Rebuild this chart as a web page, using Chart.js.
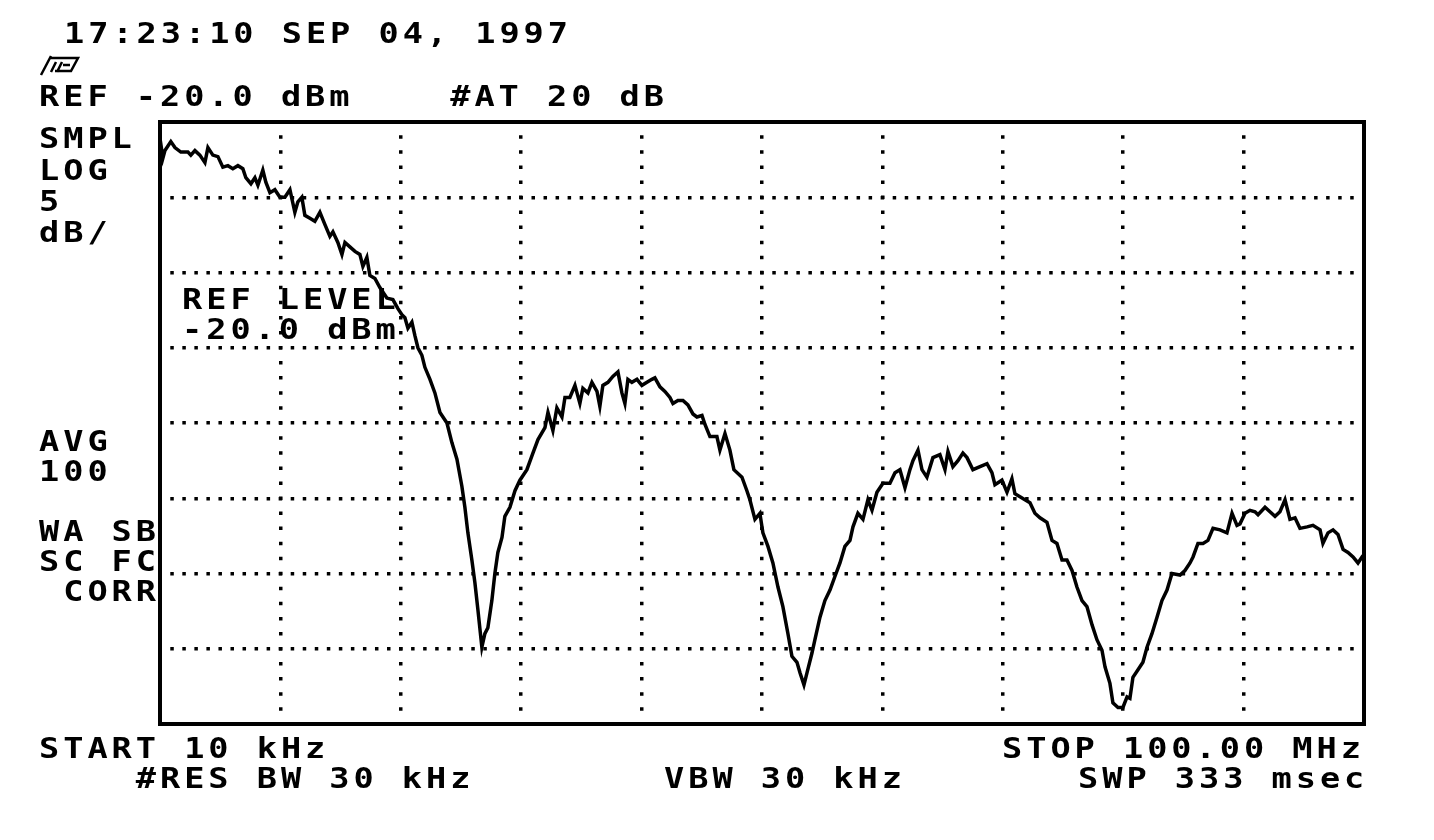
<!DOCTYPE html>
<html>
<head>
<meta charset="utf-8">
<script src="https://cdn.jsdelivr.net/npm/chart.js@4.4.1/dist/chart.umd.min.js"></script>
<style>
  body { margin: 0; background: #fff; }
  #wrap { position: relative; width: 1434px; height: 840px; overflow: hidden; }
  #plot { position: absolute; left: 0; top: 0; }
  .t {
    position: absolute;
    font-family: "DejaVu Sans Mono", monospace;
    font-weight: bold;
    font-size: 28px;
    line-height: 28px;
    letter-spacing: 3.3px;
    color: #000;
    white-space: pre;
    transform: scaleX(1.2);
    transform-origin: 0 0;
  }
  #logo { position: absolute; left: 38px; top: 52px; }
</style>
</head>
<body>
<div id="wrap">
  <canvas id="plot" width="1434" height="840"></canvas>

  <div class="t" style="left:64px;top:20px">17:23:10 SEP 04, 1997</div>
  <svg id="logo" width="44" height="26" viewBox="0 0 44 26">
    <path d="M3 23 L13 4 M12 6 L40 6 L33 19 L17 19 M18 10 L13 20 M24 10 L19 20 M25 13 L32 13" fill="none" stroke="#000" stroke-width="2.5"/>
  </svg>
  <div class="t" style="left:39px;top:83px">REF -20.0 dBm    #AT 20 dB</div>

  <div class="t" style="left:39px;top:125px">SMPL</div>
  <div class="t" style="left:39px;top:157px">LOG</div>
  <div class="t" style="left:39px;top:188px">5</div>
  <div class="t" style="left:39px;top:219px">dB/</div>

  <div class="t" style="left:182px;top:286px">REF LEVEL</div>
  <div class="t" style="left:182px;top:316px">-20.0 dBm</div>

  <div class="t" style="left:39px;top:428px">AVG</div>
  <div class="t" style="left:39px;top:458px">100</div>
  <div class="t" style="left:39px;top:518px">WA SB</div>
  <div class="t" style="left:39px;top:548px">SC FC</div>
  <div class="t" style="left:39px;top:578px"> CORR</div>

  <div class="t" style="left:39px;top:735px">START 10 kHz</div>
  <div class="t" style="left:39px;top:765px">    #RES BW 30 kHz</div>
  <div class="t" style="left:664px;top:765px">VBW 30 kHz</div>
  <div class="t" style="left:1002px;top:735px">STOP 100.00 MHz</div>
  <div class="t" style="left:1078px;top:765px">SWP 333 msec</div>
</div>

<script>
// sweep: 10 kHz .. 100 MHz, ref level -20 dBm, 5 dB/div
const freqMHz = [
  0.01, 0.25, 0.42, 0.91, 1.25, 1.74, 2.33, 2.57, 2.91, 3.32,
  3.74, 3.99, 4.40, 4.82, 5.23, 5.65, 6.06, 6.48, 6.89, 7.14,
  7.56, 7.89, 8.14, 8.55, 8.80, 9.14, 9.55, 9.97, 10.38, 10.80,
  11.21, 11.46, 11.79, 12.04, 12.46, 12.87, 13.29, 13.70, 14.12, 14.37,
  14.78, 15.12, 15.37, 15.78, 16.20, 16.61, 16.86, 17.19, 17.44, 17.86,
  18.27, 18.85, 19.35, 19.77, 20.10, 20.35, 20.60, 20.93, 21.18, 21.43,
  21.76, 22.01, 22.43, 22.84, 23.26, 23.84, 24.25, 24.67, 25.08, 25.33,
  25.58, 25.91, 26.16, 26.41, 26.74, 26.99, 27.24, 27.57, 27.82, 28.07,
  28.41, 28.65, 29.07, 29.49, 29.90, 30.48, 30.98, 31.40, 31.98, 32.23,
  32.64, 32.97, 33.39, 33.64, 34.05, 34.47, 34.88, 35.13, 35.55, 35.88,
  36.30, 36.54, 36.79, 37.21, 37.62, 38.04, 38.37, 38.62, 38.87, 39.20,
  39.62, 40.03, 40.45, 40.86, 41.11, 41.53, 41.94, 42.36, 42.61, 43.02,
  43.44, 43.85, 44.27, 44.60, 45.02, 45.27, 45.68, 46.26, 46.51, 46.93,
  47.34, 47.67, 48.34, 48.75, 49.00, 49.42, 49.83, 50.08, 50.50, 50.91,
  51.33, 51.74, 52.16, 52.49, 52.91, 53.16, 53.49, 53.74, 54.15, 54.40,
  54.82, 55.23, 55.65, 56.06, 56.48, 56.89, 57.31, 57.56, 57.97, 58.39,
  58.80, 59.14, 59.55, 60.05, 60.63, 61.05, 61.46, 61.88, 62.29, 62.54,
  62.96, 63.29, 63.70, 64.20, 64.78, 65.20, 65.45, 65.86, 66.28, 66.69,
  67.03, 67.52, 68.11, 68.69, 69.10, 69.35, 69.93, 70.35, 70.76, 71.01,
  71.43, 71.84, 72.26, 72.67, 73.09, 73.67, 74.09, 74.50, 74.92, 75.33,
  75.75, 76.16, 76.58, 76.99, 77.41, 77.82, 78.24, 78.49, 78.90, 79.15,
  79.57, 79.98, 80.32, 80.56, 80.81, 81.23, 81.64, 81.98, 82.39, 82.81,
  83.22, 83.64, 84.05, 84.72, 85.13, 85.55, 85.80, 86.21, 86.63, 87.04,
  87.46, 88.04, 88.62, 89.04, 89.45, 89.70, 90.12, 90.53, 90.95, 91.20,
  91.78, 92.19, 92.61, 93.02, 93.44, 93.85, 94.27, 94.68, 95.27, 95.76,
  96.35, 96.59, 97.01, 97.43, 97.84, 98.26, 98.67, 99.09, 99.50, 99.92
];
const levelDbm = [
  -21.1, -22.4, -21.9, -21.3, -21.7, -22.0, -22.0, -22.2, -21.9, -22.2,
  -22.7, -21.7, -22.2, -22.3, -23.0, -22.9, -23.1, -22.9, -23.1, -23.7,
  -24.1, -23.7, -24.2, -23.2, -24.0, -24.7, -24.5, -25.0, -25.0, -24.5,
  -26.0, -25.3, -25.0, -26.2, -26.4, -26.6, -26.0, -26.8, -27.6, -27.3,
  -28.0, -28.8, -28.0, -28.3, -28.6, -28.8, -29.6, -29.0, -30.2, -30.4,
  -31.0, -31.7, -31.8, -32.4, -32.8, -33.0, -33.7, -33.3, -34.2, -35.0,
  -35.5, -36.3, -37.1, -38.0, -39.3, -40.0, -41.3, -42.4, -44.2, -45.6,
  -47.3, -49.1, -50.6, -52.4, -54.9, -54.0, -53.6, -51.8, -50.0, -48.6,
  -47.6, -46.2, -45.6, -44.5, -43.8, -43.1, -42.0, -41.1, -40.3, -39.3,
  -40.5, -39.0, -39.6, -38.3, -38.3, -37.5, -38.7, -37.7, -38.0, -37.3,
  -37.9, -38.9, -37.5, -37.3, -36.9, -36.6, -38.0, -38.7, -37.1, -37.3,
  -37.1, -37.5, -37.3, -37.1, -37.0, -37.6, -37.9, -38.3, -38.7, -38.5,
  -38.5, -38.8, -39.4, -39.6, -39.5, -40.1, -40.9, -40.9, -41.8, -40.7,
  -41.8, -43.1, -43.6, -44.5, -45.1, -46.4, -46.0, -47.3, -48.2, -49.3,
  -50.9, -52.2, -54.0, -55.5, -55.9, -56.6, -57.4, -56.6, -55.3, -54.4,
  -52.9, -51.8, -51.1, -50.2, -49.3, -48.2, -47.8, -46.9, -46.0, -46.4,
  -45.1, -45.8, -44.6, -44.0, -44.0, -43.3, -43.1, -44.3, -43.1, -42.5,
  -41.8, -43.1, -43.6, -42.3, -42.1, -43.1, -41.9, -42.9, -42.5, -42.0,
  -42.3, -43.1, -42.9, -42.7, -43.3, -44.1, -43.8, -44.6, -43.7, -44.7,
  -44.9, -45.1, -45.3, -46.0, -46.3, -46.6, -47.8, -48.0, -49.1, -49.1,
  -49.8, -50.9, -51.8, -52.2, -53.4, -54.4, -55.1, -56.2, -57.3, -58.6,
  -58.9, -58.9, -58.2, -58.3, -56.9, -56.4, -55.9, -54.9, -54.0, -52.9,
  -51.8, -51.1, -50.0, -50.1, -49.8, -49.3, -48.9, -48.0, -48.0, -47.8,
  -47.0, -47.1, -47.3, -46.0, -46.8, -46.7, -46.0, -45.8, -45.9, -46.1,
  -45.6, -45.9, -46.2, -45.9, -45.1, -46.4, -46.3, -47.0, -46.9, -46.8,
  -47.1, -48.0, -47.3, -47.1, -47.4, -48.4, -48.6, -48.9, -49.3, -48.8
];

// graticule: 10 horizontal divisions over the span, 8 vertical divisions of 5 dB
const xGridMHz = [0.01, 10.009, 20.008, 30.007, 40.006, 50.005, 60.004, 70.003, 80.002, 90.001, 100];
const yGridDbm = [-60, -55, -50, -45, -40, -35, -30, -25, -20];

const framePlugin = {
  id: 'frame',
  afterDraw(chart) {
    const { ctx, chartArea: a } = chart;
    ctx.save();
    ctx.strokeStyle = '#000';
    ctx.lineWidth = 4;
    ctx.strokeRect(a.left, a.top, a.right - a.left, a.bottom - a.top);
    ctx.restore();
  }
};

const ctx = document.getElementById('plot').getContext('2d');
new Chart(ctx, {
  type: 'line',
  data: {
    datasets: [{
      data: freqMHz.map((f, i) => ({ x: f, y: levelDbm[i] })),
      borderColor: '#000',
      borderWidth: 3.5,
      pointRadius: 0,
      tension: 0,
      fill: false
    }]
  },
  options: {
    responsive: false,
    animation: false,
    layout: { padding: { left: 160, top: 122, right: 70, bottom: 116 } },
    plugins: { legend: { display: false }, tooltip: { enabled: false } },
    scales: {
      x: {
        type: 'linear',
        min: 0.01,
        max: 100,
        afterBuildTicks: scale => { scale.ticks = xGridMHz.map(v => ({ value: v })); },
        ticks: { display: false },
        grid: { color: '#000', lineWidth: 3.5, drawTicks: false },
        border: { display: false, dash: [3.5, 11.55], dashOffset: 1.75 }
      },
      y: {
        min: -60,
        max: -20,
        afterBuildTicks: scale => { scale.ticks = yGridDbm.map(v => ({ value: v })); },
        ticks: { display: false },
        grid: { color: '#000', lineWidth: 3.5, drawTicks: false },
        border: { display: false, dash: [3.5, 8.54], dashOffset: 1.75 }
      }
    }
  },
  plugins: [framePlugin]
});
</script>
</body>
</html>
